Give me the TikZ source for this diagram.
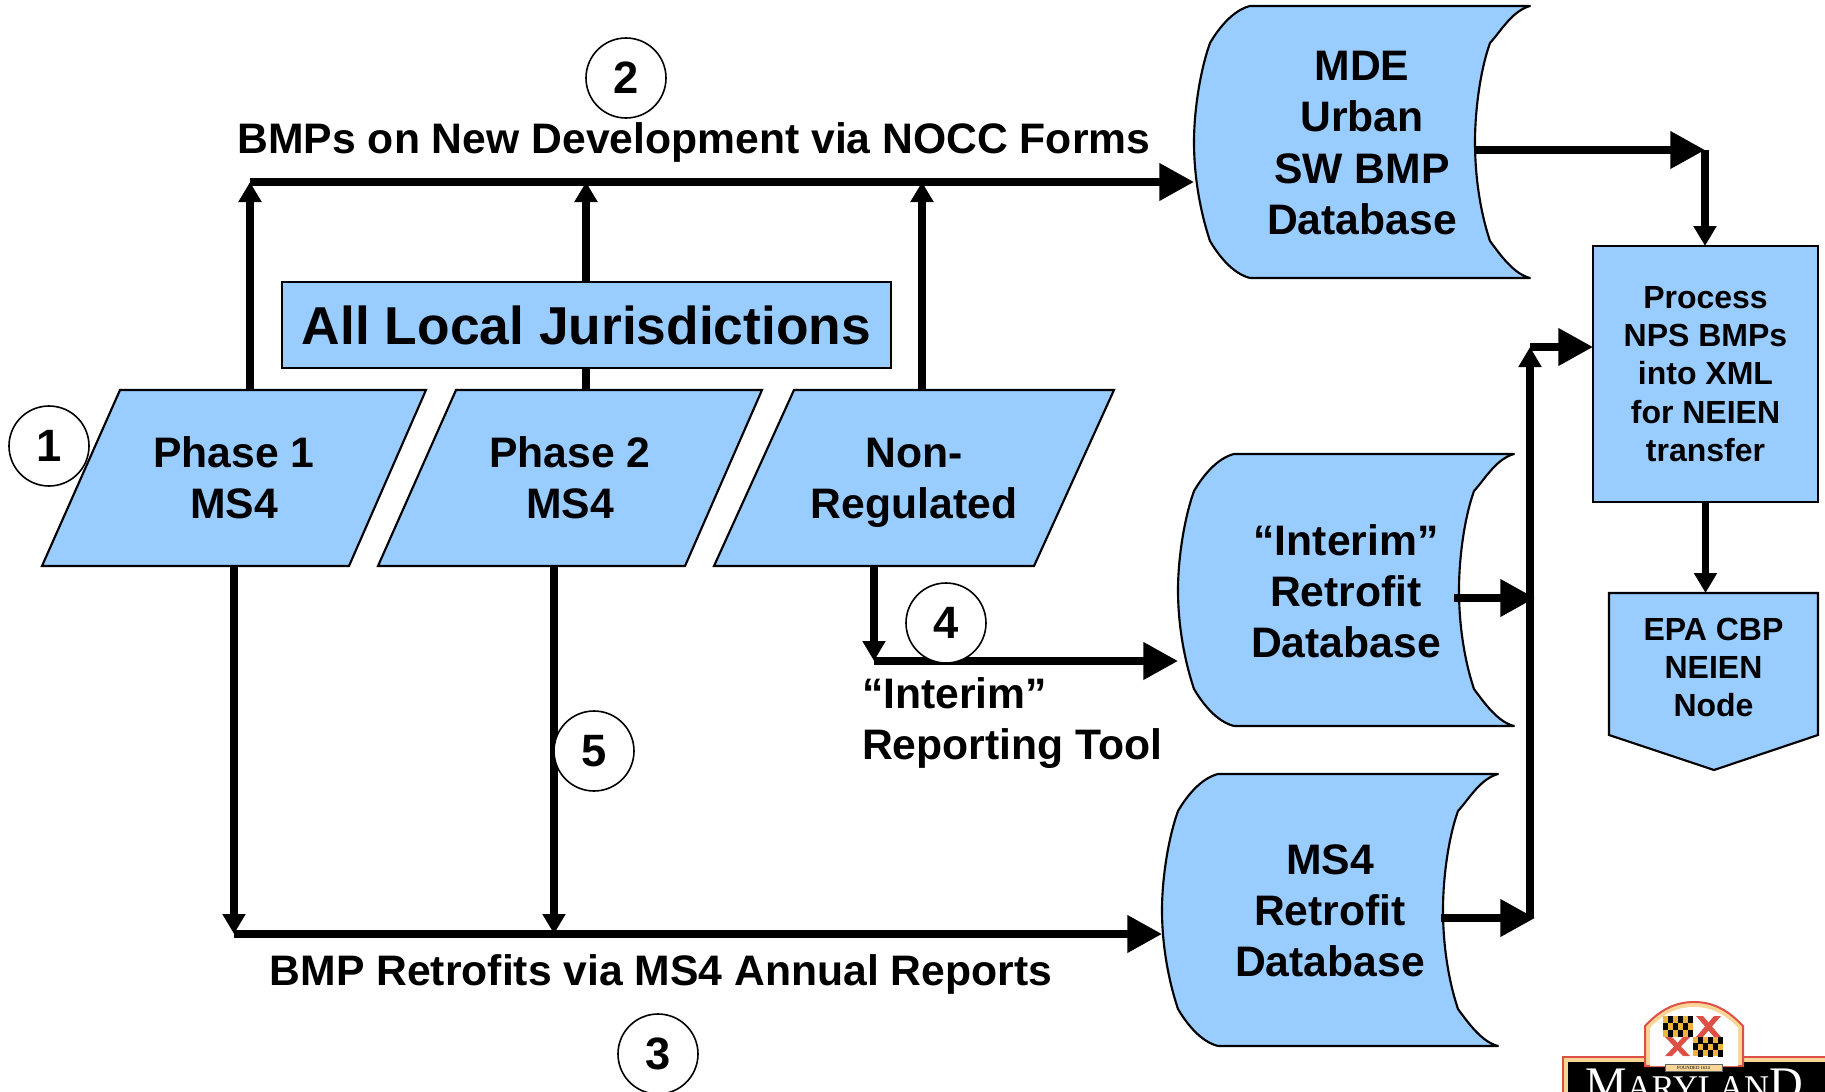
\documentclass[tikz,border=0pt]{standalone}
\usepackage{fontspec}
\setmainfont{Liberation Sans}
\newfontfamily\logofont{Liberation Serif}
\usetikzlibrary{arrows.meta}
\definecolor{boxblue}{RGB}{153,204,255}
\definecolor{logored}{RGB}{222,80,70}
\definecolor{logotan}{RGB}{250,214,150}
\definecolor{flaggold}{RGB}{236,180,60}
\tikzset{
	shapeline/.style={draw=black,line width=1.6pt,fill=boxblue},
	boxtext/.style={font=\fontsize{32}{38.4}\selectfont\bfseries,align=center,inner sep=0pt,outer sep=0pt},
	smalltext/.style={font=\fontsize{24}{28.8}\selectfont\bfseries,align=center,inner sep=0pt,outer sep=0pt},
	database/.style={boxtext,minimum width=252pt,minimum height=204pt},
	slanted/.style={boxtext,minimum width=230pt,minimum height=132pt},
	numcircle/.style={circle,draw=black,line width=1.2pt,fill=white,minimum size=60pt,inner sep=0pt,font=\fontsize{34}{36}\selectfont\bfseries},
	bigarrow/.style={line width=5.5pt,-{Triangle[length=26pt,width=27pt]}},
	smallarrow/.style={line width=5.5pt,-{Triangle[length=15pt,width=16.5pt]}},
}
\newcommand{\dbshape}[2]{
	\begin{scope}[shift={(#1,#2)}]
		\draw[shapeline,line join=round] (56,0) -- (336,0) .. controls (318,5) and (307,25) .. (296,37) .. controls (286,65) and (281,105) .. (281,136) .. controls (281,170) and (286,205) .. (296,235) .. controls (307,250) and (320,268) .. (336,272) -- (56,272) .. controls (40,268) and (26,252) .. (16,235) .. controls (6,205) and (0,170) .. (0,136) .. controls (0,105) and (6,65) .. (16,37) .. controls (26,20) and (40,4) .. (56,0) -- cycle;
	\end{scope}
}

\begin{document}
\begin{tikzpicture}[x=0.75pt,y=0.75pt,yscale=-1,xscale=1]
	\useasboundingbox (0,0) rectangle (1825,1092);

	%Junctions of the lines
	\coordinate (busA) at (250,182);
	\coordinate (busB) at (586,182);
	\coordinate (busC) at (922,182);
	\coordinate (mdeOut) at (1475,150);
	\coordinate (mdeTurn) at (1705,150);
	\coordinate (downA) at (234,934);
	\coordinate (downB) at (554,934);
	\coordinate (toolTurn) at (874,661);
	\coordinate (interimOut) at (1454,598);
	\coordinate (interimIn) at (1535,598);
	\coordinate (ms4Out) at (1441,918);
	\coordinate (ms4In) at (1535,918);
	\coordinate (riserFoot) at (1530,918);
	\coordinate (riserTop) at (1530,347);

	%Shapes: Databases
	\dbshape{1194}{6}
	\node[database] (mde) at (1362,143) {MDE\\Urban\\SW BMP\\Database};
	\dbshape{1178}{454}
	\node[database] (interim) at (1346,591) {“Interim”\\Retrofit\\Database};
	\dbshape{1162}{774}
	\node[database] (msretro) at (1330,911) {MS4\\Retrofit\\Database};

	%Straight Lines behind the boxes
	\draw[smallarrow] (busA |- 0,390) -- (busA);
	\draw[smallarrow] (busB |- 0,390) -- (busB);
	\draw[smallarrow] (busC |- 0,390) -- (busC);

	%Shapes: Parallelograms
	\draw[shapeline] (42,566) -- (349,566) -- (426,390) -- (120,390) -- cycle;
	\node[slanted] (phaseone) at (234,478) {Phase 1\\MS4};
	\draw[shapeline] (378,566) -- (685,566) -- (762,390) -- (456,390) -- cycle;
	\node[slanted] (phasetwo) at (570,478) {Phase 2\\MS4};
	\draw[shapeline] (714,566) -- (1034,566) -- (1114,390) -- (794,390) -- cycle;
	\node[slanted,text depth=0pt] (nonreg) at (914,478) {Non-\\Regulated};

	%Shape: Rectangle
	\node[shapeline,minimum width=456.5pt,minimum height=64.5pt,inner sep=0pt,outer sep=0pt,font=\fontsize{40}{44}\selectfont\bfseries] (alljur) at (586.5,325) {All Local Jurisdictions};
	\node[smalltext,shapeline,minimum width=168.75pt,minimum height=192pt] (process) at (1705.5,374) {Process\\NPS BMPs\\into XML\\for NEIEN\\transfer};

	%Shape: Off page
	\draw[shapeline] (1609,593) -- (1818,593) -- (1818,735) -- (1714,770) -- (1609,735) -- cycle;
	\node[smalltext,anchor=north,minimum width=156.75pt,minimum height=111.5pt,text depth=0pt] (epa) at (1713.5,593) {EPA CBP\\NEIEN\\Node};

	%Straight Lines
	\draw[bigarrow] (busA) -- (busA -| mde.west);
	\draw[smallarrow] (phaseone.south -| downA) -- (downA);
	\draw[smallarrow] (phasetwo.south -| downB) -- (downB);
	\draw[bigarrow] (downA) -- (downA -| msretro.west);
	\draw[smallarrow] (nonreg.south -| toolTurn) -- (toolTurn);
	\draw[bigarrow] (toolTurn) -- (toolTurn -| interim.west);
	\draw[bigarrow] (mdeOut) -- (mdeTurn);
	\draw[smallarrow] (mdeTurn) -- (mdeTurn |- process.north);
	\draw[smallarrow] (process.south) -- (process.south |- epa.north);
	\draw[smallarrow] (riserFoot) -- (riserTop);
	\draw[bigarrow] (interimOut) -- (interimIn);
	\draw[bigarrow] (ms4Out) -- (ms4In);
	\draw[bigarrow] (riserTop) -- (riserTop -| process.west);

	% Text Node
	\node[numcircle] (numone) at (49,446) {1};
	% Text Node
	\node[numcircle] (numtwo) at (626,78) {2};
	% Text Node
	\node[numcircle] (numthree) at (658,1054) {3};
	% Text Node
	\node[numcircle] (numfour) at (946,623) {4};
	% Text Node
	\node[numcircle] (numfive) at (594,751) {5};
	% Text Node
	\node[boxtext] (labeltop) at (694,142) {BMPs on New Development via NOCC Forms};
	% Text Node
	\node[boxtext] (labelbottom) at (661,974) {BMP Retrofits via MS4 Annual Reports};
	% Text Node
	\node[boxtext,align=left,anchor=west] (labeltool) at (862,723) {“Interim”\\Reporting Tool};

	%Logo
	\begin{scope}
		\clip (1500,980) rectangle (1825,1092);
		\fill[logotan,draw=logored,line width=1.5pt] (1563,1057) rectangle (1830,1100);
		\fill[black] (1568,1062) rectangle (1830,1100);
		\path[fill=logotan,draw=logored,line width=1.5pt] (1645,1066) -- (1645,1026) .. controls (1660,1010) and (1675,1002) .. (1694,1002) .. controls (1713,1002) and (1728,1010) .. (1743,1026) -- (1743,1066) -- cycle;
		\fill[white] (1650,1066) -- (1650,1028) .. controls (1663,1014) and (1677,1007) .. (1694,1007) .. controls (1711,1007) and (1725,1014) .. (1738,1028) -- (1738,1066) -- cycle;
		%flag
		\fill[flaggold] (1663,1016) rectangle (1693,1037);
		\fill[flaggold] (1693,1037) rectangle (1723,1056);
		\fill[white] (1693,1016) rectangle (1723,1037);
		\fill[white] (1663,1037) rectangle (1693,1056);
		\foreach \cx/\cy in {1668/1016,1678/1016,1688/1016,1663/1023,1673/1023,1683/1023,1668/1030,1678/1030,1688/1030,1698/1037,1708/1037,1718/1037,1693/1043,1703/1043,1713/1043,1698/1050,1708/1050,1718/1050}
			\fill[black] (\cx,\cy) rectangle ++(5,6.5);
		\fill[logored] (1696,1037) -- (1703,1037) -- (1721,1016) -- (1714,1016) -- cycle;
		\fill[logored] (1696,1016) -- (1703,1016) -- (1721,1037) -- (1714,1037) -- cycle;
		\fill[logored] (1665,1056) -- (1672,1056) -- (1690,1037) -- (1683,1037) -- cycle;
		\fill[logored] (1665,1037) -- (1672,1037) -- (1690,1056) -- (1683,1056) -- cycle;
		%banner
		\fill[logotan,draw=black!60,line width=0.3pt] (1665,1064) -- (1722,1064) -- (1722,1071) -- (1665,1071) -- cycle;
		\node[font=\logofont\fontsize{3.5}{4}\selectfont,inner sep=0pt] (founded) at (1693.5,1067.5) {FOUNDED 1634};
		\node[font=\logofont\fontsize{35}{35}\selectfont,text=white,inner sep=0pt,anchor=base] (maryland) at (1694,1099) {M\fontsize{26}{26}\selectfont ARYLAN\fontsize{35}{35}\selectfont D};
	\end{scope}
\end{tikzpicture}
\end{document}
